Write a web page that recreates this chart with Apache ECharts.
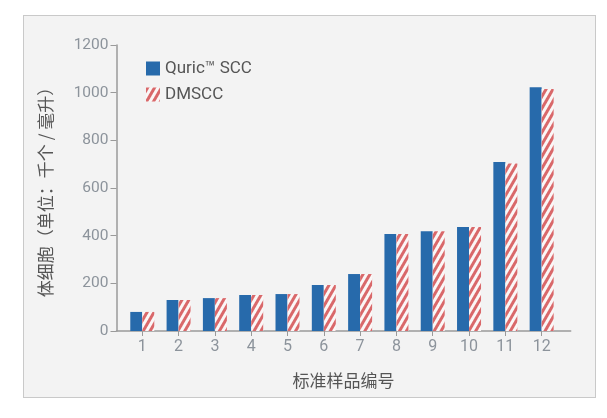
<!DOCTYPE html>
<html>
<head>
<meta charset="utf-8">
<script src="https://cdn.jsdelivr.net/npm/echarts@6/dist/echarts.min.js"></script>
<style>
html,body{margin:0;padding:0;background:#ffffff;}
#panel{position:absolute;left:23px;top:15px;width:571px;height:381px;background:#f3f3f3;border:1px solid #c9c9c9;}
#chart{position:absolute;left:0;top:0;width:607px;height:418px;}
</style>
</head>
<body>
<div id="panel"></div>
<div id="chart"></div>
<script>
var categories = [1, 2, 3, 4, 5, 6, 7, 8, 9, 10, 11, 12];
var quricValues = [80, 130, 138, 151, 155, 193, 239, 407, 419, 436, 709, 1023];
var dmsccValues = [80, 130, 138, 151, 155, 193, 239, 407, 419, 436, 703, 1015];
var yTicks = [0, 200, 400, 600, 800, 1000, 1200];
var seriesNames = ['Quric\u2122 SCC', 'DMSCC'];
var xAxisTitle = '标准样品编号';
var yAxisTitle = '体细胞（单位：千个 / 毫升）';

var chart = echarts.init(document.getElementById('chart'), null, {renderer: 'canvas'});
var numFont = 'Roboto, "Noto Sans", sans-serif';
var cjkFont = '"Noto Sans CJK SC", "Noto Sans", sans-serif';

function pairs(vals) {
  return categories.map(function (c, i) { return [c, vals[i]]; });
}

chart.setOption({
  backgroundColor: 'transparent',
  animation: false,
  grid: {left: 116.5, right: 36.3, top: 45, bottom: 87, containLabel: false},
  legend: {
    orient: 'vertical',
    left: 141,
    top: 55,
    icon: 'rect',
    itemWidth: 14,
    itemHeight: 14,
    itemGap: 9,
    textStyle: {fontFamily: numFont, fontSize: 17, color: '#555555'},
    data: seriesNames
  },
  xAxis: {
    type: 'value',
    min: 0.29,
    max: 12.8,
    name: xAxisTitle,
    nameLocation: 'middle',
    nameGap: 41,
    nameTextStyle: {fontFamily: cjkFont, fontSize: 17, color: '#555555'},
    axisLine: {show: true, lineStyle: {color: '#9a9a9a', width: 1.5}},
    axisTick: {show: true, length: 5, lineStyle: {color: '#9a9a9a'}, customValues: categories},
    axisLabel: {customValues: categories, margin: 8, fontFamily: numFont, fontSize: 16, color: '#8c939b'},
    splitLine: {show: false}
  },
  yAxis: {
    type: 'value',
    min: 0,
    max: 1200,
    interval: 200,
    name: yAxisTitle,
    nameLocation: 'middle',
    nameGap: 62,
    nameRotate: 90,
    nameTextStyle: {fontFamily: cjkFont, fontSize: 17, color: '#555555'},
    axisLine: {show: true, lineStyle: {color: '#9a9a9a', width: 1.5}},
    axisTick: {show: true, length: 6, lineStyle: {color: '#9a9a9a'}},
    axisLabel: {
      margin: 8, fontFamily: numFont, fontSize: 15.5, color: '#8c939b',
      formatter: function (v) { return String(v); }
    },
    splitLine: {show: false}
  },
  series: [
    {
      name: seriesNames[0],
      type: 'bar',
      barWidth: 12,
      barGap: '0%',
      itemStyle: {color: '#276aab'},
      data: pairs(quricValues)
    },
    {
      name: seriesNames[1],
      type: 'bar',
      barWidth: 12,
      barGap: '0%',
      itemStyle: {
        color: '#fbf7f7',
        decal: {
          symbol: 'rect',
          symbolSize: 1,
          dashArrayX: [1, 0],
          dashArrayY: [3, 3],
          rotation: -Math.PI / 3,
          color: '#d9686a'
        }
      },
      data: pairs(dmsccValues)
    }
  ]
});
</script>
</body>
</html>
